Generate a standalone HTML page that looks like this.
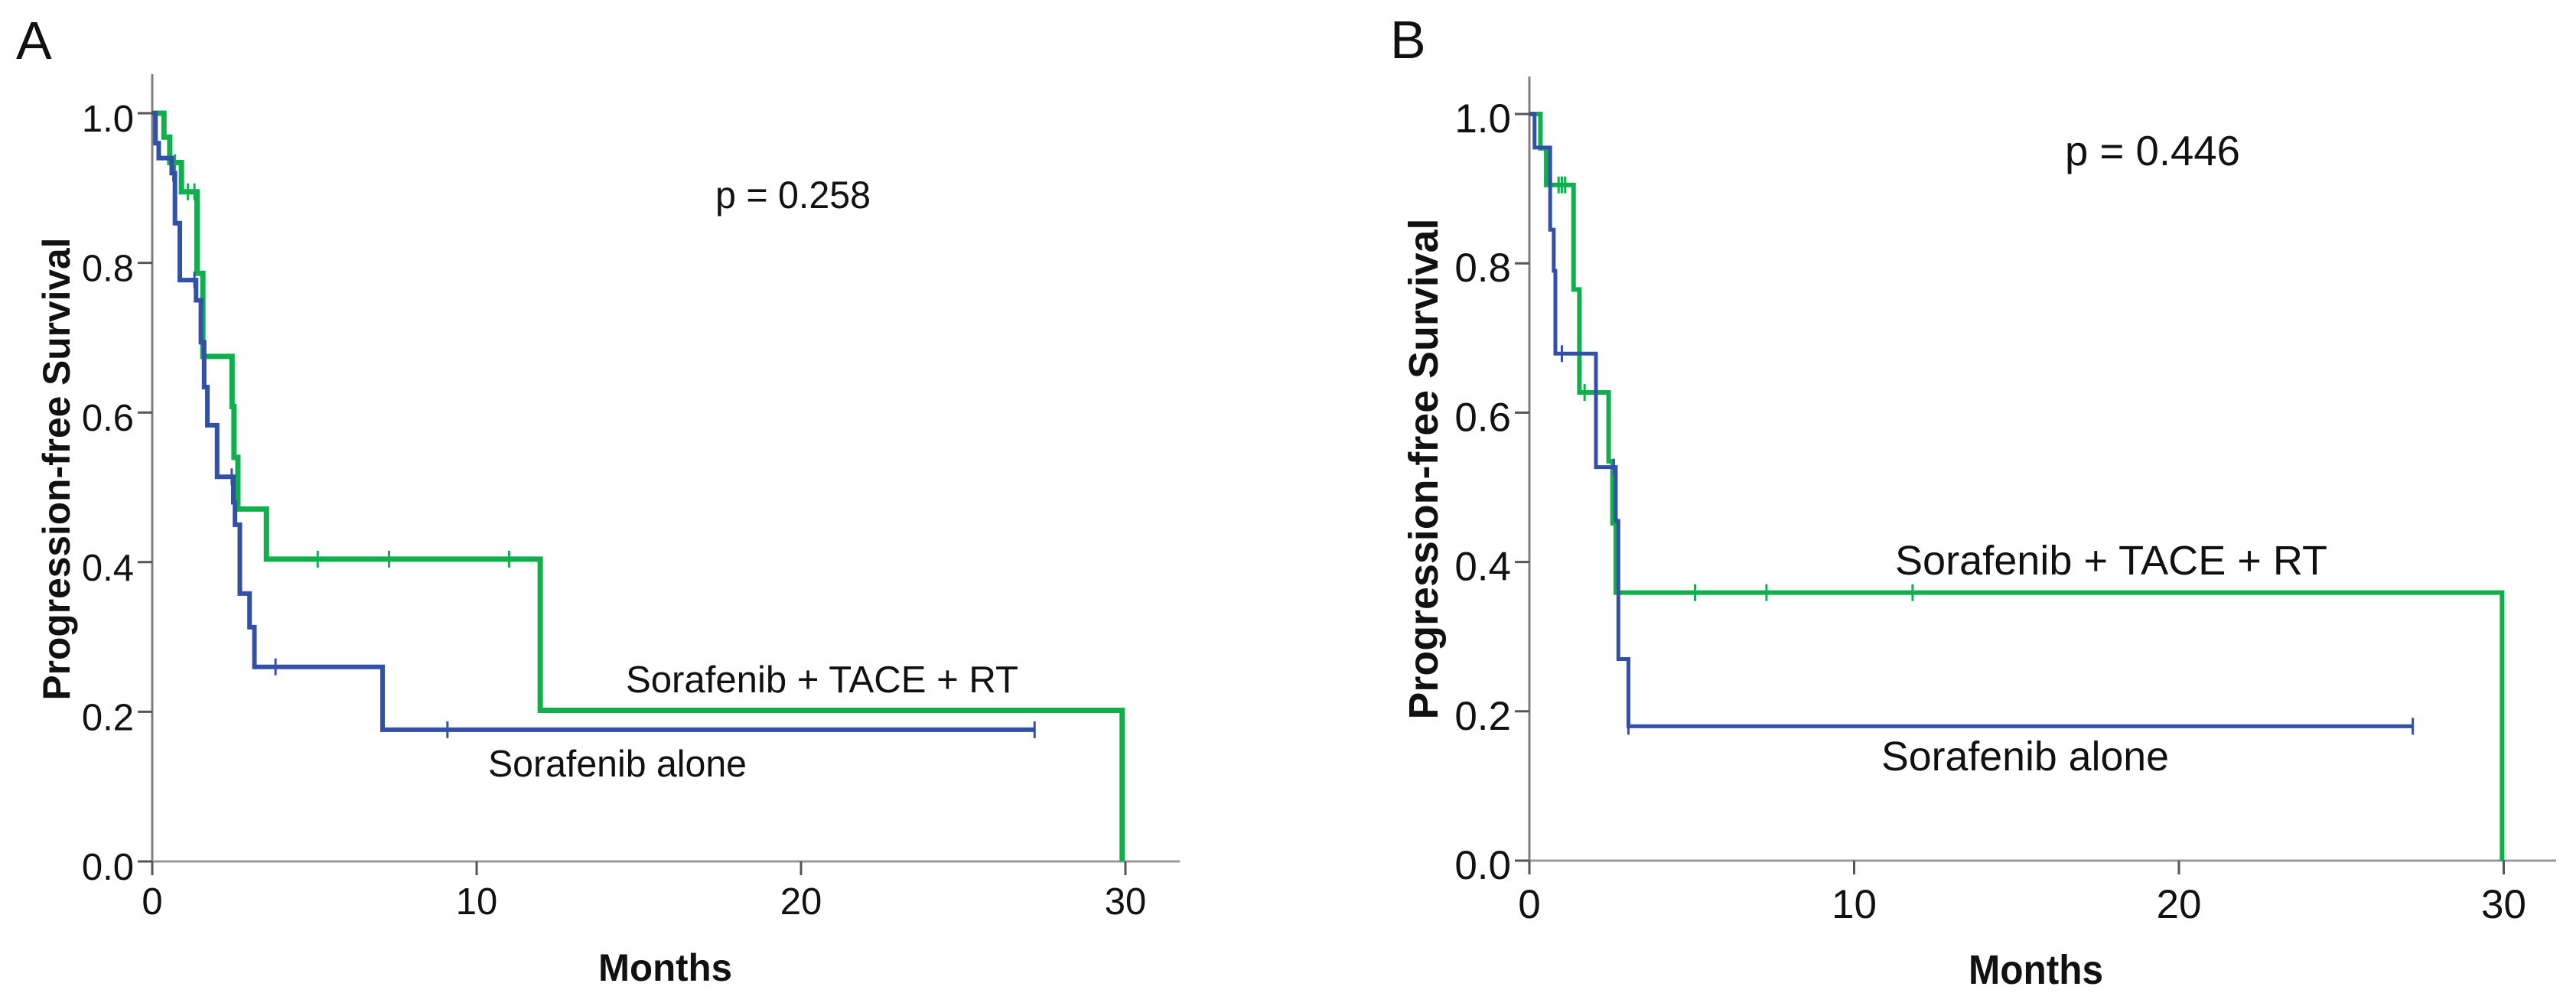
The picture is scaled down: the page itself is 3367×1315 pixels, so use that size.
<!DOCTYPE html>
<html><head><meta charset="utf-8"><style>
html,body{margin:0;padding:0;background:#fff;}
svg{display:block;}
text{font-family:"Liberation Sans",Arial,sans-serif;fill:#111;}
</style></head>
<body>
<svg id="fig" width="3367" height="1315" viewBox="0 0 3367 1315" xmlns="http://www.w3.org/2000/svg">
<g id="panelA"></g>
<g id="panelB"></g>
</svg>
<script>
// ---- Panel A data ----
const aComboTimes = [0.36,0.54,0.9,1.38,1.56,2.46,2.52,2.64,3.52,11.96,29.9];
const aComboSurv  = [0.968,0.934,0.895,0.786,0.675,0.608,0.54,0.471,0.404,0.202,0];
const aComboCens  = [0.7,1.1,1.3,5.1,7.3,11.0];
const aAloneTimes = [0.1,0.2,0.6,0.7,0.85,1.35,1.5,1.6,1.7,2.0,2.5,2.55,2.7,3.0,3.15,7.1];
const aAloneSurv  = [0.96,0.94,0.92,0.853,0.777,0.75,0.694,0.634,0.583,0.514,0.48,0.45,0.358,0.313,0.26,0.176];
const aAloneCens  = [0.65,1.3,2.45,3.8,9.1,27.2];
// ---- Panel B data ----
const bComboTimes = [0.34,0.52,1.36,1.54,2.44,2.56,2.66,29.95];
const bComboSurv  = [0.954,0.905,0.765,0.627,0.535,0.452,0.359,0];
const bComboCens  = [0.9,1.0,1.1,1.7,5.1,7.3,11.8];
const bAloneTimes = [0.16,0.64,0.75,0.8,2.05,2.66,2.74,3.05];
const bAloneSurv  = [0.955,0.845,0.79,0.679,0.527,0.455,0.27,0.18];
const bAloneCens  = [1.0,2.6,3.05,27.2];
// ---- ticks ----
const yTicks = [0,0.2,0.4,0.6,0.8,1.0];
const yTickLabels = ["0.0","0.2","0.4","0.6","0.8","1.0"];
const xTicks = [0,10,20,30];
const xTickLabels = ["0","10","20","30"];

const NS = "http://www.w3.org/2000/svg";
function el(parent, tag, attrs, txt){
  const e = document.createElementNS(NS, tag);
  for (const k in attrs) e.setAttribute(k, attrs[k]);
  if (txt !== undefined) e.textContent = txt;
  parent.appendChild(e);
  return e;
}
function survAt(times, survs, t){
  let s = 1;
  for (let i=0;i<times.length;i++){ if (times[i] <= t) s = survs[i]; }
  return s;
}
function drawPanel(g, cfg){
  const X = t => cfg.x0 + t*cfg.pxPerMonth;
  const Y = v => cfg.y0 - v*(cfg.y0 - cfg.y1);
  const ya = el(g,'line',{x1:cfg.x0,y1:cfg.axisTop,x2:cfg.x0,y2:Y(0),stroke:'#7f7f7f','stroke-width':3});
  
  
  const xa = el(g,'line',{x1:cfg.x0,y1:Y(0),x2:cfg.axisRight,y2:Y(0),stroke:'#9a9a9a','stroke-width':3});
  
  
  yTicks.forEach((v,i)=>{
    const tk = el(g,'line',{x1:cfg.x0-19,y1:Y(v),x2:cfg.x0,y2:Y(v),stroke:'#555','stroke-width':3});
    
    
    const lb = el(g,'text',{x:cfg.x0-24,y:Y(v)+24,'font-size':cfg.fs,'text-anchor':'end'},yTickLabels[i]);
    
    
  });
  xTicks.forEach((v,i)=>{
    const tk = el(g,'line',{x1:X(v),y1:Y(0),x2:X(v),y2:Y(0)+18,stroke:'#555','stroke-width':3});
    
    
    const lb = el(g,'text',{x:X(v),y:cfg.xLabelBase,'font-size':cfg.fs,'text-anchor':'middle'},xTickLabels[i]);
    
    
  });
  cfg.series.forEach(s=>{
    let d = `M${X(0)},${Y(1)}`;
    for (let i=0;i<s.times.length;i++){ d += ` H${X(s.times[i])} V${Y(s.survs[i])}`; }
    if (s.end !== undefined) d += ` H${X(s.end)}`;
    const p = el(g,'path',{d:d,fill:'none',stroke:s.color,'stroke-width':s.w,'stroke-linejoin':'miter'});
    
    
    s.cens.forEach(t=>{
      const v = survAt(s.times, s.survs, t);
      const c = el(g,'line',{x1:X(t),y1:Y(v)-11,x2:X(t),y2:Y(v)+11,stroke:s.color,'stroke-width':3});
      
      
    });
  });
}

const gA = document.getElementById('panelA');
drawPanel(gA,{x0:199,pxPerMonth:42.4,y1:148,y0:1126,axisTop:97,axisRight:1542,fs:49,xLabelBase:1195,
  series:[
    {name:'curve-sorafenib-tace-rt',times:aComboTimes,survs:aComboSurv,cens:aComboCens,color:'#0fb04c',w:7},
    {name:'curve-sorafenib-alone',times:aAloneTimes,survs:aAloneSurv,cens:aAloneCens,end:27.2,color:'#3350a8',w:6}
  ]});
const gB = document.getElementById('panelB');
drawPanel(gB,{x0:1999,pxPerMonth:42.45,y1:149,y0:1125,axisTop:100,axisRight:3341,fs:53,xLabelBase:1200,
  series:[
    {name:'curve-sorafenib-tace-rt',times:bComboTimes,survs:bComboSurv,cens:bComboCens,color:'#0fb04c',w:6},
    {name:'curve-sorafenib-alone',times:bAloneTimes,survs:bAloneSurv,cens:bAloneCens,end:27.2,color:'#3350a8',w:5}
  ]});
</script>
<svg width="3367" height="1315" viewBox="0 0 3367 1315" style="position:absolute;left:0;top:0;pointer-events:none" xmlns="http://www.w3.org/2000/svg">
  <text x="21" y="77" font-size="70">A</text>
  <text x="935" y="272" font-size="50" textLength="203" lengthAdjust="spacingAndGlyphs">p = 0.258</text>
  <text x="818" y="905" font-size="49" textLength="513" lengthAdjust="spacingAndGlyphs">Sorafenib + TACE + RT</text>
  <text x="638" y="1015" font-size="49" textLength="338" lengthAdjust="spacingAndGlyphs">Sorafenib alone</text>
  <text x="782" y="1282" font-size="50" font-weight="bold" textLength="175" lengthAdjust="spacingAndGlyphs">Months</text>
  <text transform="translate(91,613) rotate(-90)" text-anchor="middle" font-size="50" font-weight="bold" textLength="605" lengthAdjust="spacingAndGlyphs">Progression-free Survival</text>

  <text x="1817" y="76" font-size="70">B</text>
  <text x="2699" y="216" font-size="55" textLength="229" lengthAdjust="spacingAndGlyphs">p = 0.446</text>
  <text x="2477" y="751" font-size="54" textLength="565" lengthAdjust="spacingAndGlyphs">Sorafenib + TACE + RT</text>
  <text x="2459" y="1007" font-size="54" textLength="376" lengthAdjust="spacingAndGlyphs">Sorafenib alone</text>
  <text x="2573" y="1286" font-size="54" font-weight="bold" textLength="176" lengthAdjust="spacingAndGlyphs">Months</text>
  <text transform="translate(1879,613) rotate(-90)" text-anchor="middle" font-size="54" font-weight="bold" textLength="655" lengthAdjust="spacingAndGlyphs">Progression-free Survival</text>
</svg>
</body></html>
